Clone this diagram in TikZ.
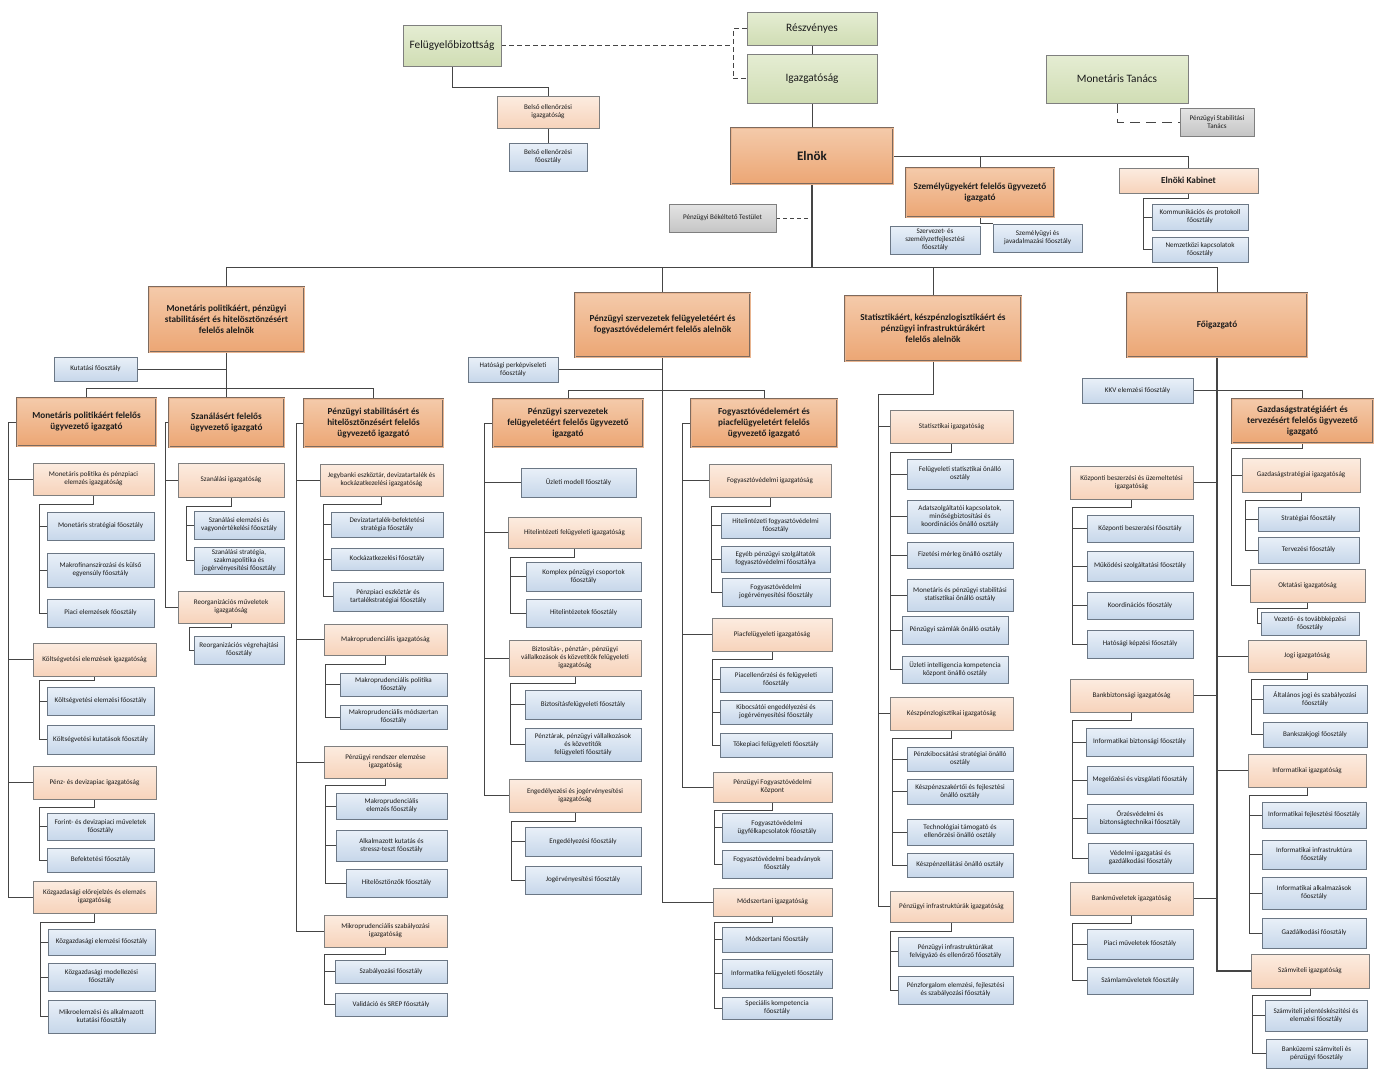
\documentclass[tikz,border=0pt]{standalone}
\usepackage{fontspec}
\setmainfont{Carlito}
\usetikzlibrary{shadows,backgrounds}
\definecolor{orTop}{HTML}{F4CAAA}
\definecolor{orBot}{HTML}{ECA674}
\definecolor{orLine}{HTML}{7D6A5E}
\definecolor{orMid}{HTML}{E9B590}
\definecolor{loTop}{HTML}{FCECE0}
\definecolor{loBot}{HTML}{F7D3BB}
\definecolor{loLine}{HTML}{7F7F7F}
\definecolor{blTop}{HTML}{E9F0F8}
\definecolor{blBot}{HTML}{C7D7EA}
\definecolor{blLine}{HTML}{6B7785}
\definecolor{grTop}{HTML}{E5EDD3}
\definecolor{grBot}{HTML}{D0DDB4}
\definecolor{gyTop}{HTML}{E4E4E4}
\definecolor{gyBot}{HTML}{C5C5C5}
\definecolor{lineC}{HTML}{454545}
\definecolor{txtC}{HTML}{1C1C1C}
\tikzset{
  base/.style={rectangle, align=center, inner sep=0.5pt, text=txtC,
    drop shadow={opacity=0.25,shadow xshift=1pt,shadow yshift=-1pt}},
  mn/.style={base, top color=orTop, bottom color=orBot, draw=orLine, line width=0.6pt,
    double=orMid, double distance=0.7pt, font=\bfseries\fontsize{9.2}{11}\selectfont},
  lo/.style={base, top color=loTop, bottom color=loBot, draw=loLine, line width=0.6pt,
    font=\fontsize{7.1}{8.1}\selectfont},
  bl/.style={base, top color=blTop, bottom color=blBot, draw=blLine, line width=0.6pt,
    font=\fontsize{7.1}{8.1}\selectfont},
  gr/.style={base, top color=grTop, bottom color=grBot, draw=loLine, line width=0.6pt,
    font=\fontsize{11.3}{13}\selectfont},
  gy/.style={base, top color=gyTop, bottom color=gyBot, draw=loLine, line width=0.6pt,
    font=\fontsize{7.1}{8.1}\selectfont},
  conn/.style={draw=lineC, line width=0.9pt},
  dsh/.style={draw=lineC, line width=0.9pt, dash pattern=on 5pt off 3pt},
  dshl/.style={draw=lineC, line width=0.9pt, dash pattern=on 10pt off 6pt}
}
\newcommand\mybox[7]{\node[#1,minimum width={(#5-#3)*1pt},minimum height={(#6-#4)*1pt}] (#2) at ({(#3+#5)/2},{-(#4+#6)/2}) {#7};}
\newcommand\orgfam[4]{\draw[conn] (#1.south) |- (#2) |- (#3.west);
  \foreach \c in {#4}{\draw[conn] (#2 |- \c.west) -- (\c.west);}}
\newcommand\orglfam[4]{\draw[conn] (#1.west) -| (#2 |- #3.west) -- (#3.west);
  \foreach \c in {#4}{\draw[conn] (#2 |- \c.west) -- (\c.west);}}
\begin{document}
\begin{tikzpicture}[x=1pt,y=1pt]
\useasboundingbox (0,0) rectangle (1383,-1077);
% ---------- top
\mybox{gr}{fb}{403}{25}{501}{66}{Felügyelőbizottság}
\mybox{lo}{bei}{497}{96}{599}{128}{Belső ellenőrzési\\igazgatóság}
\mybox{bl}{bef}{509}{143}{587}{171}{Belső ellenőrzési\\főosztály}
\mybox{gr}{reszv}{747}{12}{877}{45}{Részvényes}
\mybox{gr}{igaz}{747}{54}{877}{103}{Igazgatóság}
\mybox{gr}{mt}{1046}{55}{1188}{103}{Monetáris Tanács}
\mybox{gy}{pst}{1180}{108}{1254}{136}{Pénzügyi Stabilitási\\Tanács}
\mybox{mn,font=\bfseries\fontsize{13}{15}\selectfont}{elnok}{731}{128}{893}{184}{Elnök}
\mybox{gy}{pbt}{669}{204}{776}{232}{Pénzügyi Békéltető Testület}
\mybox{mn}{szem}{906}{168}{1054}{217}{Személyügyekért felelős ügyvezető\\igazgató}
\mybox{bl}{szerv}{890}{226}{980}{254}{Szervezet- és\\személyzetfejlesztési\\főosztály}
\mybox{bl}{szemj}{993}{224}{1082}{252}{Személyügyi és\\javadalmazási főosztály}
\mybox{lo,font=\bfseries\fontsize{9.2}{11}\selectfont}{kab}{1119}{168}{1258}{193}{Elnöki Kabinet}
\mybox{bl}{komm}{1152}{204}{1248}{230}{Kommunikációs és protokoll\\főosztály}
\mybox{bl}{nemz}{1152}{237}{1248}{262}{Nemzetközi kapcsolatok\\főosztály}
% ---------- alelnok level
\mybox{mn}{al1}{149}{287}{304}{352}{Monetáris politikáért, pénzügyi\\stabilitásért és hitelösztönzésért\\felelős alelnök}
\mybox{mn}{al2}{575}{293}{750}{357}{Pénzügyi szervezetek felügyeletéért és\\fogyasztóvédelemért felelős alelnök}
\mybox{mn}{al3}{845}{296}{1021}{361}{Statisztikáért,  készpénzlogisztikáért és\\pénzügyi infrastruktúrákért\\felelős alelnök}
\mybox{mn}{fo}{1127}{293}{1307}{357}{Főigazgató}
\mybox{bl}{kut}{54}{357}{137}{381}{Kutatási főosztály}
\mybox{bl}{hat}{468}{357}{558}{382}{Hatósági perképviseleti\\főosztály}
% ---------- UI level
\mybox{mn}{mpui}{17}{398}{156}{446}{Monetáris politikáért felelős\\ügyvezető igazgató}
\mybox{mn}{szui}{169}{398}{284}{447}{Szanálásért felelős\\ügyvezető igazgató}
\mybox{mn}{psui}{304}{399}{443}{447}{Pénzügyi stabilitásért és\\hitelösztönzésért felelős\\ügyvezető igazgató}
\mybox{mn}{pszui}{493}{399}{643}{447}{Pénzügyi szervezetek\\felügyeletéért felelős ügyvezető\\igazgató}
\mybox{mn}{fvui}{691}{399}{837}{447}{Fogyasztóvédelemért és\\piacfelügyeletért felelős\\ügyvezető igazgató}
% ---------- column 1
\mybox{lo}{mpig}{33}{463}{154}{495}{Monetáris politika és pénzpiaci\\elemzés igazgatóság}
\mybox{bl}{mps}{47}{512}{154}{540}{Monetáris stratégiai főosztály}
\mybox{bl}{mfk}{47}{553}{154}{587}{Makrofinanszírozási és külső\\egyensúly főosztály}
\mybox{bl}{pe}{47}{599}{154}{627}{Piaci elemzések főosztály}
\mybox{lo}{kvig}{33}{643}{156}{676}{Költségvetési elemzések igazgatóság}
\mybox{bl}{kve}{47}{687}{154}{715}{Költségvetési elemzési főosztály}
\mybox{bl}{kvk}{47}{725}{154}{754}{Költségvetési kutatások főosztály}
\mybox{lo}{pdig}{33}{766}{156}{799}{Pénz- és devizapiac igazgatóság}
\mybox{bl}{fdm}{47}{813}{154}{840}{Forint- és devizapiaci műveletek\\főosztály}
\mybox{bl}{befo}{47}{848}{154}{872}{Befektetési főosztály}
\mybox{lo}{kgig}{33}{881}{156}{913}{Közgazdasági előrejelzés és elemzés\\igazgatóság}
\mybox{bl}{kge}{48}{929}{155}{955}{Közgazdasági elemzési főosztály}
\mybox{bl}{kgm}{48}{963}{155}{991}{Közgazdasági modellezési\\főosztály}
\mybox{bl}{mik}{48}{1000}{155}{1033}{Mikroelemzési és alkalmazott\\kutatási főosztály}
% ---------- column 2
\mybox{lo}{szig}{178}{463}{284}{497}{Szanálási igazgatóság}
\mybox{bl}{sze}{194}{511}{284}{539}{Szanálási elemzési és\\vagyonértékelési főosztály}
\mybox{bl}{szs}{194}{547}{284}{574}{Szanálási stratégia,\\szakmapolitika és\\jogérvényesítési főosztály}
\mybox{lo}{reig}{178}{591}{284}{623}{Reorganizációs műveletek\\igazgatóság}
\mybox{bl}{rev}{194}{636}{284}{664}{Reorganizációs végrehajtási\\főosztály}
% ---------- column 3
\mybox{lo}{jbig}{320}{464}{443}{496}{Jegybanki eszköztár, devizatartalék és\\kockázatkezelési  igazgatóság}
\mybox{bl}{dbs}{331}{512}{443}{537}{Devizatartalék-befektetési\\stratégia főosztály}
\mybox{bl}{kkf}{331}{548}{443}{570}{Kockázatkezelési főosztály}
\mybox{bl}{pet}{333}{582}{443}{611}{Pénzpiaci eszköztár és\\tartalékstratégiai főosztály}
\mybox{lo}{makig}{324}{624}{447}{655}{Makroprudenciális igazgatóság}
\mybox{bl}{mpp}{340}{673}{447}{696}{Makroprudenciális politika\\főosztály}
\mybox{bl}{mpm}{340}{705}{447}{729}{Makroprudenciális módszertan\\főosztály}
\mybox{lo}{prig}{324}{746}{447}{778}{Pénzügyi rendszer elemzése\\igazgatóság}
\mybox{bl}{mpe}{336}{793}{447}{819}{Makroprudenciális\\elemzés főosztály}
\mybox{bl}{aks}{336}{830}{447}{861}{Alkalmazott kutatás és\\stressz-teszt főosztály}
\mybox{bl}{hof}{346}{869}{447}{897}{Hitelösztönzők főosztály}
\mybox{lo}{mikig}{324}{915}{447}{947}{Mikroprudenciális szabályozási\\igazgatóság}
\mybox{bl}{szf}{335}{960}{447}{983}{Szabályozási főosztály}
\mybox{bl}{val}{335}{993}{447}{1016}{Validáció és SREP főosztály}
% ---------- column 4
\mybox{bl}{uzm}{521}{468}{636}{497}{Üzleti modell főosztály}
\mybox{lo}{hfig}{508}{517}{641}{548}{Hitelintézeti felügyeleti igazgatóság}
\mybox{bl}{kpcs}{526}{562}{641}{591}{Komplex pénzügyi csoportok\\főosztály}
\mybox{bl}{hif}{526}{599}{641}{627}{Hitelintézetek főosztály}
\mybox{lo}{bzig}{509}{640}{641}{676}{Biztosítás-, pénztár-, pénzügyi\\vállalkozások és közvetítők felügyeleti\\igazgatóság}
\mybox{bl}{bff}{525}{690}{641}{719}{Biztosításfelügyeleti főosztály}
\mybox{bl}{ptf}{525}{728}{641}{761}{Pénztárak, pénzügyi vállalkozások\\és közvetítők\\felügyeleti főosztály}
\mybox{lo}{engig}{509}{779}{641}{812}{Engedélyezési és jogérvényesítési\\igazgatóság}
\mybox{bl}{enf}{525}{827}{641}{856}{Engedélyezési főosztály}
\mybox{bl}{jef}{525}{866}{641}{894}{Jogérvényesítési főosztály}
% ---------- column 5
\mybox{lo}{fvig}{709}{464}{831}{497}{Fogyasztóvédelmi igazgatóság}
\mybox{bl}{hfv}{721}{513}{830}{538}{Hitelintézeti fogyasztóvédelmi\\főosztály}
\mybox{bl}{epsz}{721}{546}{830}{572}{Egyéb pénzügyi szolgáltatók\\fogyasztóvédelmi főosztálya}
\mybox{bl}{fvj}{722}{578}{830}{606}{Fogyasztóvédelmi\\jogérvényesítési főosztály}
\mybox{lo}{pfig}{712}{618}{832}{651}{Piacfelügyeleti igazgatóság}
\mybox{bl}{pef}{720}{667}{832}{692}{Piacellenőrzési és felügyeleti\\főosztály}
\mybox{bl}{kej}{720}{700}{832}{724}{Kibocsátói engedélyezési és\\jogérvényesítési főosztály}
\mybox{bl}{tpf}{720}{733}{832}{757}{Tőkepiaci felügyeleti főosztály}
\mybox{lo}{pfk}{713}{772}{832}{802}{Pénzügyi Fogyasztóvédelmi\\Központ}
\mybox{bl}{fuk}{722}{813}{832}{842}{Fogyasztóvédelmi\\ügyfélkapcsolatok főosztály}
\mybox{bl}{fbf}{722}{850}{832}{878}{Fogyasztóvédelmi beadványok\\főosztály}
\mybox{lo}{modig}{713}{888}{832}{916}{Módszertani  igazgatóság}
\mybox{bl}{mof}{722}{927}{832}{952}{Módszertani főosztály}
\mybox{bl}{iff}{722}{959}{832}{988}{Informatika felügyeleti főosztály}
\mybox{bl}{skf}{722}{997}{832}{1019}{Speciális kompetencia\\főosztály}
% ---------- column 6
\mybox{lo}{statig}{890}{410}{1013}{443}{Statisztikai igazgatóság}
\mybox{bl}{fso}{907}{459}{1013}{489}{Felügyeleti statisztikai önálló\\osztály}
\mybox{bl}{ako}{907}{500}{1013}{533}{Adatszolgáltatói kapcsolatok,\\minőségbiztosítási és\\koordinációs önálló  osztály}
\mybox{bl}{fmo}{907}{542}{1013}{568}{Fizetési mérleg önálló osztály}
\mybox{bl}{mpso}{907}{579}{1013}{611}{Monetáris és pénzügyi stabilitási\\statisztikai önálló osztály}
\mybox{bl}{pszo}{902}{616}{1008}{644}{Pénzügyi számlák önálló osztály}
\mybox{bl}{uiko}{902}{656}{1008}{683}{Üzleti intelligencia kompetencia\\központ önálló osztály}
\mybox{lo}{keszig}{890}{697}{1013}{730}{Készpénzlogisztikai igazgatóság}
\mybox{bl}{pkso}{907}{747}{1013}{771}{Pénzkibocsátási stratégiai önálló\\osztály}
\mybox{bl}{kszo}{907}{779}{1013}{804}{Készpénzszakértői és fejlesztési\\önálló osztály}
\mybox{bl}{ttoo}{907}{819}{1013}{845}{Technológiai támogató és\\ellenőrzési önálló osztály}
\mybox{bl}{keo}{907}{853}{1013}{877}{Készpénzellátási önálló osztály}
\mybox{lo}{pinfig}{890}{891}{1013}{922}{Pénzügyi infrastruktúrák igazgatóság}
\mybox{bl}{pife}{898}{937}{1013}{966}{Pénzügyi infrastruktúrákat\\felvigyázó és ellenőrző főosztály}
\mybox{bl}{pfef}{898}{976}{1013}{1004}{Pénzforgalom elemzési, fejlesztési\\és szabályozási főosztály}
% ---------- column 7
\mybox{bl}{kkv}{1082}{378}{1193}{403}{KKV elemzési főosztály}
\mybox{mn}{gazdui}{1232}{399}{1373}{443}{Gazdaságstratégiáért és\\tervezésért  felelős ügyvezető\\igazgató}
\mybox{lo}{gsig}{1242}{458}{1360}{492}{Gazdaságstratégiai   igazgatóság}
\mybox{bl}{stf}{1258}{507}{1359}{531}{Stratégiai főosztály}
\mybox{bl}{tf}{1258}{537}{1359}{563}{Tervezési főosztály}
\mybox{lo}{oktig}{1250}{569}{1365}{602}{Oktatási igazgatóság}
\mybox{bl}{vtf}{1261}{612}{1359}{635}{Vezető- és továbbképzési\\főosztály}
\mybox{lo}{kbig}{1070}{466}{1193}{499}{Központi beszerzési és üzemeltetési\\igazgatóság}
\mybox{bl}{kbf}{1087}{515}{1193}{542}{Központi beszerzési  főosztály}
\mybox{bl}{msf}{1087}{551}{1193}{581}{Működési szolgáltatási  főosztály}
\mybox{bl}{kof}{1087}{592}{1193}{619}{Koordinációs főosztály}
\mybox{bl}{hkf}{1087}{630}{1193}{658}{Hatósági képzési főosztály}
\mybox{lo}{jogig}{1248}{640}{1366}{672}{Jogi igazgatóság}
\mybox{bl}{ajf}{1263}{685}{1367}{713}{Általános jogi és szabályozási\\főosztály}
\mybox{bl}{bjf}{1263}{722}{1367}{747}{Bankszakjogi főosztály}
\mybox{lo}{bbig}{1070}{679}{1193}{712}{Bankbiztonsági igazgatóság}
\mybox{bl}{ibf}{1086}{728}{1193}{756}{Informatikai biztonsági főosztály}
\mybox{bl}{mvf}{1087}{766}{1193}{794}{Megelőzési és vizsgálati főosztály}
\mybox{bl}{obf}{1087}{804}{1193}{833}{Őrzésvédelmi és\\biztonságtechnikai főosztály}
\mybox{bl}{vgf}{1088}{843}{1193}{873}{Védelmi igazgatási és\\gazdálkodási főosztály}
\mybox{lo}{infig}{1248}{754}{1366}{787}{Informatikai igazgatóság}
\mybox{bl}{ifo}{1262}{802}{1366}{828}{Informatikai fejlesztési főosztály}
\mybox{bl}{iif}{1262}{840}{1366}{869}{Informatikai infrastruktúra\\főosztály}
\mybox{bl}{iaf}{1262}{877}{1366}{909}{Informatikai alkalmazások\\főosztály}
\mybox{bl}{gf}{1262}{918}{1366}{948}{Gazdálkodási főosztály}
\mybox{lo}{bmig}{1070}{882}{1193}{915}{Bankműveletek igazgatóság}
\mybox{bl}{pmf}{1087}{929}{1193}{959}{Piaci műveletek  főosztály}
\mybox{bl}{smf}{1087}{967}{1193}{994}{Számlaműveletek főosztály}
\mybox{lo}{szvig}{1251}{954}{1369}{988}{Számviteli igazgatóság}
\mybox{bl}{sjef}{1265}{1000}{1367}{1031}{Számviteli jelentéskészítési és\\elemzési főosztály}
\mybox{bl}{bszf}{1266}{1039}{1367}{1068}{Banküzemi számviteli és\\pénzügyi főosztály}
% ================= connectors
\begin{scope}[on background layer]
\fill[white] (0,0) rectangle (1383,-1077);
% top
\draw[conn] (fb.south) -- ++(0,-21) -| (bei.north);
\draw[conn] (bei.south) -- (bef.north);
\coordinate (dj) at (733,0);
\draw[dsh] (fb.east) -- (fb.east -| dj);
\draw[dsh] (reszv.west) -| (dj |- igaz.west) -- (igaz.west);
\draw[conn] (reszv.south) -- (igaz.north);
\draw[conn] (igaz.south) -- (elnok.north);
\draw[dshl] (mt.south) |- (pst.west);
\draw[conn] (elnok.east) -| (kab.north);
\draw[conn] (szem.north) -- (szem.north |- elnok.east);
\coordinate (bus) at (0,-267);
\draw[conn, line width=1.2pt] (elnok.south) -- (elnok.south |- bus);
\draw[dsh, dash pattern=on 4pt off 3pt] (pbt.east) -- (pbt.east -| elnok.south);
\draw[conn] (szem.south) |- (szemj.north west);
\coordinate (kb) at (1143,-198);
\orgfam{kab}{kb}{nemz}{komm}
\draw[conn] (al1.north) |- (fo.north |- bus) -- (fo.north);
\draw[conn] (al2.north) -- (al2.north |- bus);
\draw[conn] (al3.north) -- (al3.north |- bus);
% alelnok 1
\draw[conn] (al1.south) -- (szui.north);
\draw[conn] (kut.east) -- (kut.east -| al1.south);
\coordinate (b1) at (0,-388);
\draw[conn] (mpui.north) |- (psui.north |- b1) -- (psui.north);
% alelnok 2
\draw[conn] (al2.south) |- (modig.west);
\draw[conn] (hat.east) -- (hat.east -| al2.south);
\coordinate (b2) at (0,-390);
\draw[conn] (pszui.north) |- (fvui.north |- b2) -- (fvui.north);
% alelnok 3
\coordinate (s3) at (878,-394);
\orgfam{al3}{s3}{pinfig}{statig,keszig}
% foigazgato
\draw[conn, line width=1.2pt] (fo.south) |- (szvig.west);
\foreach \c in {kbig,bbig,bmig} \draw[conn] (\c.east) -- (\c.east -| fo.south);
\foreach \c in {jogig,infig} \draw[conn] (\c.west) -- (\c.west -| fo.south);
\draw[conn] (kkv.east) -| (gazdui.north);
\coordinate (sg) at (1231,-448);
\orgfam{gazdui}{sg}{oktig}{gsig}
% UI spines
\coordinate (sA) at (8,0);   \orglfam{mpui}{sA}{kgig}{mpig,kvig,pdig}
\coordinate (sB) at (165,0); \orglfam{szui}{sB}{reig}{szig}
\coordinate (sC) at (296,0); \orglfam{psui}{sC}{mikig}{jbig,makig,prig}
\coordinate (sD) at (484,0); \orglfam{pszui}{sD}{engig}{uzm,hfig,bzig}
\coordinate (sE) at (682,0); \orglfam{fvui}{sE}{pfk}{fvig,pfig}
% families
\coordinate (f1) at (39,-504);   \orgfam{mpig}{f1}{pe}{mps,mfk}
\coordinate (f2) at (39,-680);   \orgfam{kvig}{f2}{kvk}{kve}
\coordinate (f3) at (39,-807);   \orgfam{pdig}{f3}{befo}{fdm}
\coordinate (f4) at (40,-922);   \orgfam{kgig}{f4}{mik}{kge,kgm}
\coordinate (f5) at (186,-506);  \orgfam{szig}{f5}{szs}{sze}
\coordinate (f6) at (189,-627);  \draw[conn] (reig.south) |- (f6) |- (rev.west);
\coordinate (f7) at (323,-504);  \orgfam{jbig}{f7}{pet}{dbs,kkf}
\coordinate (f8) at (325,-664);  \orgfam{makig}{f8}{mpm}{mpp}
\coordinate (f9) at (325,-785);  \orgfam{prig}{f9}{hof}{mpe,aks}
\coordinate (f10) at (324,-954); \orgfam{mikig}{f10}{val}{szf}
\coordinate (f11) at (510,-557); \orgfam{hfig}{f11}{hif}{kpcs}
\coordinate (f12) at (510,-683); \orgfam{bzig}{f12}{ptf}{bff}
\coordinate (f13) at (511,-821); \orgfam{engig}{f13}{jef}{enf}
\coordinate (f14) at (711,-506); \orgfam{fvig}{f14}{fvj}{hfv,epsz}
\coordinate (f15) at (712,-659); \orgfam{pfig}{f15}{tpf}{pef,kej}
\coordinate (f16) at (714,-810); \orgfam{pfk}{f16}{fbf}{fuk}
\coordinate (f17) at (714,-922); \orgfam{modig}{f17}{skf}{mof,iff}
\coordinate (f18) at (890,-452); \orgfam{statig}{f18}{uiko}{fso,ako,fmo,mpso,pszo}
\coordinate (f19) at (892,-738); \orgfam{keszig}{f19}{keo}{pkso,kszo,ttoo}
\coordinate (f20) at (890,-931); \orgfam{pinfig}{f20}{pfef}{pife}
\coordinate (f21) at (1245,-500); \orgfam{gsig}{f21}{tf}{stf}
\coordinate (f22) at (1257,-608); \draw[conn] (oktig.south) |- (f22) |- (vtf.west);
\coordinate (f23) at (1072,-507); \orgfam{kbig}{f23}{hkf}{kbf,msf,kof}
\coordinate (f24) at (1251,-679); \orgfam{jogig}{f24}{bjf}{ajf}
\coordinate (f25) at (1072,-720); \orgfam{bbig}{f25}{vgf}{ibf,mvf,obf}
\coordinate (f26) at (1249,-795); \orgfam{infig}{f26}{gf}{ifo,iif,iaf}
\coordinate (f27) at (1072,-923); \orgfam{bmig}{f27}{smf}{pmf}
\coordinate (f28) at (1252,-995); \orgfam{szvig}{f28}{bszf}{sjef}
\end{scope}
\end{tikzpicture}
\end{document}
